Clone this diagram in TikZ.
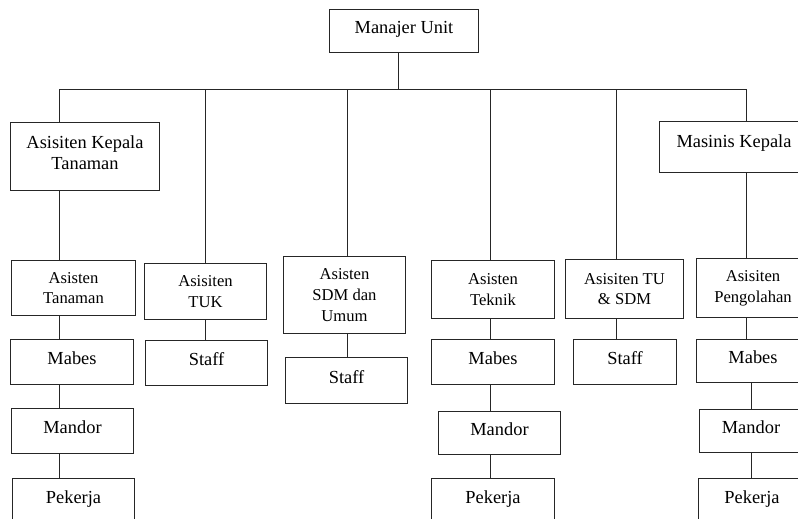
\documentclass[tikz,border=0pt]{standalone}
\usepackage{fontspec}
\setmainfont{Liberation Serif}
\newcommand\fbig{\fontsize{18.4}{21.2}\selectfont}
\newcommand\fsmall{\fontsize{16.6}{20.6}\selectfont}
\newcommand\liftby[2]{\raisebox{#1}[\height][\depth]{#2}}
\begin{document}
\begin{tikzpicture}[x=1pt,y=-1pt,
  box/.style={draw=black!85, line width=1pt, inner sep=0pt, align=center, font=\fbig},
  small/.style={font=\fsmall},
  sgl/.style={text depth=7pt},
  sz/.style 2 args={minimum width=#1, minimum height=#2},
  ln/.style={draw=black!85, line width=1pt}]
\useasboundingbox (0,0) rectangle (798,519);
\clip (0,0) rectangle (798,519);
% top level
\node[box, sgl, sz={149}{43}] (mgr) at (404,31) {Manajer Unit};
\node[box, sz={149}{68}] (akt) at (85,156.5) {\liftby{3.5pt}{Asisiten Kepala}\\\liftby{3.5pt}{Tanaman}};
\node[box, sz={149}{51}, text depth=11.4pt] (mk) at (734,147) {Masinis Kepala};
% column 1
\node[box, small, sz={124}{55}] (at) at (73.5,288) {Asisten\\Tanaman};
\node[box, sgl, sz={123}{45}] (mb1) at (72,362) {Mabes};
\node[box, sgl, sz={122}{45}] (md1) at (72.5,431) {Mandor};
\node[box, sgl, sz={122}{45}] (pk1) at (73.5,501) {Pekerja};
% column 2
\node[box, small, sz={122}{56}] (tuk) at (205.5,291.5) {Asisiten\\TUK};
\node[box, sgl, sz={122}{45}] (st2) at (206.5,363) {Staff};
% column 3
\node[box, small, sz={122}{77}] (sdm) at (344.5,295) {Asisten\\SDM dan\\Umum};
\node[box, sgl, sz={122}{46}] (st3) at (346.5,380.5) {Staff};
% column 4
\node[box, small, sz={123}{58}] (tek) at (493,289.5) {Asisten\\Teknik};
\node[box, sgl, sz={123}{45}] (mb4) at (493,362) {Mabes};
\node[box, sgl, sz={122}{43}] (md4) at (499.5,433) {Mandor};
\node[box, sgl, sz={123}{45}] (pk4) at (493,501) {Pekerja};
% column 5
\node[box, small, sz={118}{59}] (tus) at (624.5,289) {Asisiten TU\\\& SDM};
\node[box, sgl, sz={103}{45}] (st5) at (625,362) {Staff};
% column 6
\node[box, small, sz={113}{59}] (pen) at (753,288) {Asisiten\\Pengolahan};
\node[box, sgl, sz={113}{43}] (mb6) at (753,361) {Mabes};
\node[box, sgl, sz={103}{43}] (md6) at (751,431) {Mandor};
\node[box, sgl, sz={107}{45}] (pk6) at (752,501) {Pekerja};
% connector positions
\coordinate (bus) at (0,89.5);
\coordinate (c0) at (398.5,0);
\coordinate (c1) at (59.5,0);
\coordinate (c2) at (205.5,0);
\coordinate (c3) at (347.5,0);
\coordinate (c4) at (490.5,0);
\coordinate (c5) at (616.5,0);
\coordinate (c6) at (746.5,0);
\coordinate (c6b) at (751.5,0);
% connectors
\draw[ln] (mgr.south -| c0) -- (bus -| c0);
\draw[ln] (akt.north -| c1) -- (bus -| c1) -- (bus -| c6) -- (mk.north -| c6);
\draw[ln] (bus -| c2) -- (tuk.north -| c2);
\draw[ln] (bus -| c3) -- (sdm.north -| c3);
\draw[ln] (bus -| c4) -- (tek.north -| c4);
\draw[ln] (bus -| c5) -- (tus.north -| c5);
\draw[ln] (akt.south -| c1) -- (at.north -| c1);
\draw[ln] (at.south -| c1) -- (mb1.north -| c1);
\draw[ln] (mb1.south -| c1) -- (md1.north -| c1);
\draw[ln] (md1.south -| c1) -- (pk1.north -| c1);
\draw[ln] (tuk.south -| c2) -- (st2.north -| c2);
\draw[ln] (sdm.south -| c3) -- (st3.north -| c3);
\draw[ln] (tek.south -| c4) -- (mb4.north -| c4);
\draw[ln] (mb4.south -| c4) -- (md4.north -| c4);
\draw[ln] (md4.south -| c4) -- (pk4.north -| c4);
\draw[ln] (tus.south -| c5) -- (st5.north -| c5);
\draw[ln] (mk.south -| c6) -- (pen.north -| c6);
\draw[ln] (pen.south -| c6) -- (mb6.north -| c6);
\draw[ln] (mb6.south -| c6b) -- (md6.north -| c6b);
\draw[ln] (md6.south -| c6b) -- (pk6.north -| c6b);
\end{tikzpicture}
\end{document}
